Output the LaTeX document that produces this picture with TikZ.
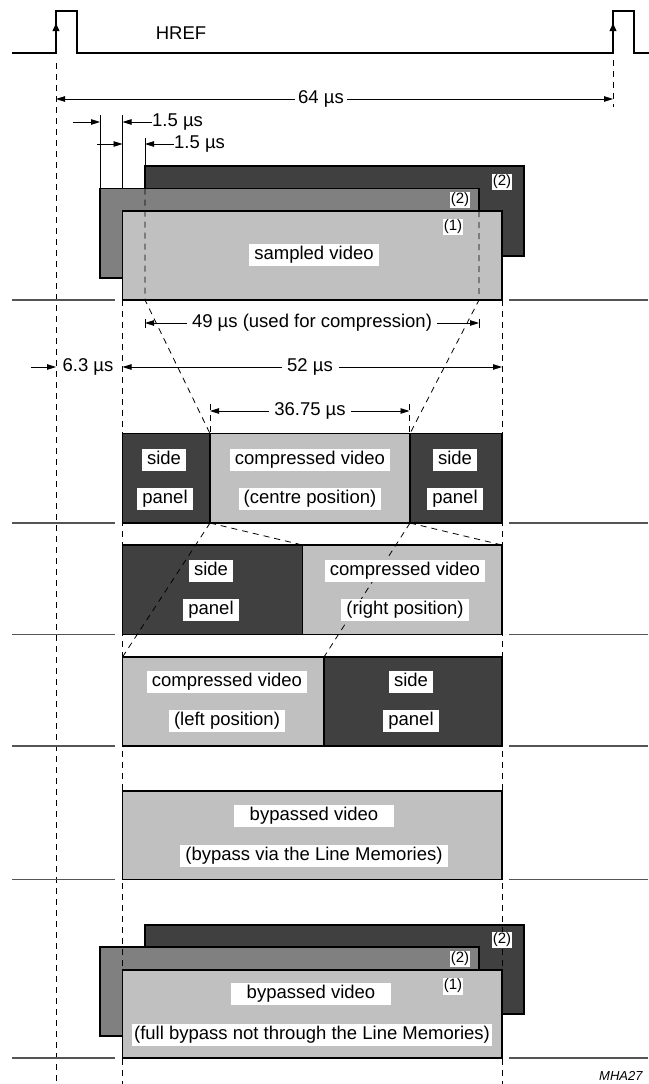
\documentclass[tikz,border=0pt]{standalone}
\usepackage{fontspec}
\setmainfont{Liberation Sans}
\usetikzlibrary{arrows.meta}
\definecolor{dk}{HTML}{404040}
\definecolor{md}{HTML}{808080}
\definecolor{lt}{HTML}{C0C0C0}
\definecolor{sepc}{HTML}{555555}
\tikzset{
 lbl/.style={fill=white, inner xsep=5pt, inner ysep=2.5pt, text height=13pt, text depth=4pt, font=\fontsize{18.5}{20}\selectfont},
 wlbl/.style={lbl, inner xsep=16pt},
 num/.style={fill=white, inner xsep=1pt, inner ysep=1.5pt, font=\fontsize{15}{17}\selectfont},
 dim/.style={font=\fontsize{18.5}{20}\selectfont, inner sep=0pt},
 box/.style={draw=black, line width=1.3pt},
 dsh/.style={dash pattern=on 6pt off 5pt, line width=0.8pt},
 arr/.style={-{Triangle[length=9pt,width=5.5pt]}, line width=0.8pt},
 sepl/.style={draw=sepc, line width=1.3pt},
 ext/.style={line width=0.8pt},
}
\begin{document}
\begin{tikzpicture}[x=1pt,y=-1pt]
\useasboundingbox (0,0) rectangle (648,1084);
% HREF signal
\draw[line width=2.2pt] (12,53) -- (56,53) -- (56,11) -- (77,11) -- (77,53) -- (613,53) -- (613,11) -- (634,11) -- (634,53) -- (650,53);
\draw[line width=2pt,-{Triangle[length=8pt,width=6.5pt]}] (56,42) -- (56,23);
\draw[line width=2pt,-{Triangle[length=8pt,width=6.5pt]}] (613,42) -- (613,23);
\node[dim] (href) at (181,33) {HREF};
% long dashed verticals
\draw[dsh] (56,63) -- (56,1084);
\draw[dsh] (613,60) -- (613,107);
% 64 us
\coordinate (h1) at (56,99);
\coordinate (h2) at (613,99);
\node[dim] (l64) at (321,99) {64 µs};
\draw[arr] ([xshift=-3pt]l64.west) -- (h1);
\draw[arr] ([xshift=3pt]l64.east) -- (h2);
% 1.5 us extension lines
\draw[ext] (100,115) -- (100,188);
\draw[ext] (122.5,115) -- (122.5,188);
\draw[ext] (145,138) -- (145,166);
\coordinate (a1) at (73,122);
\coordinate (a2) at (100,122);
\coordinate (a3) at (122.5,122);
\node[dim,anchor=west] (l15a) at (152,122) {1.5 µs};
\draw[arr] (a1) -- (a2);
\draw[arr] (l15a.west) -- (a3);
\coordinate (b1) at (97,144);
\coordinate (b2) at (122.5,144);
\coordinate (b3) at (145,144);
\node[dim,anchor=west] (l15b) at (174,144) {1.5 µs};
\draw[arr] (b1) -- (b2);
\draw[arr] (l15b.west) -- (b3);
% separators
\foreach \yy in {300,523,634.5,746,879.5,1058}{
  \draw[sepl] (12,\yy) -- (115,\yy);
  \draw[sepl] (509,\yy) -- (648,\yy);
}
% row 1 boxes
\draw[box, fill=dk] (145,166) rectangle (524,256);
\draw[box, fill=md] (100,188.5) rectangle (479,278);
\draw[box, fill=lt] (122.5,211) rectangle (502,300);
% row 6 back boxes
\draw[box, fill=dk] (145,925) rectangle (524,1014);
\draw[box, fill=md] (100,947) rectangle (479,1036);
% dashed verticals 52 us
\draw[dsh] (122.5,300) -- (122.5,1084);
\draw[dsh] (502,300) -- (502,1084);
% row 2
\draw[box, fill=dk] (122.5,433.5) rectangle (502,523);
\draw[box, fill=lt] (210,433.5) rectangle (410,523);
% row 3
\draw[box, fill=dk] (122.5,545) rectangle (502,634.5);
\draw[box, fill=lt] (302.5,545) rectangle (502,634.5);
% row 4
\draw[box, fill=lt] (122.5,657) rectangle (324,746);
\draw[box, fill=dk] (324,657) rectangle (502,746);
% row 5
\draw[box, fill=lt] (122.5,791) rectangle (502,879.5);
% row 6 front
\draw[box, fill=lt] (122.5,970) rectangle (502,1058);
% dashed mapping lines
\draw[dsh] (145,188.5) -- (145,300) -- (210,433.5);
\draw[dsh] (479,211) -- (479,300) -- (410,433.5);
\draw[dsh] (210,523) -- (302.5,545);
\draw[dsh] (410,523) -- (502,545);
\draw[dsh] (210,523) -- (122.5,657);
\draw[dsh] (410,523) -- (324,657);
\draw[dsh] (210,404) -- (210,433.5);
\draw[dsh] (409.5,404) -- (409.5,433.5);
% 49 us
\draw[ext] (145,319) -- (145,328);
\draw[ext] (479,319) -- (479,328);
\coordinate (c1) at (145,323);
\coordinate (c2) at (479,323);
\node[dim] (l49) at (312,323) {49 µs (used for compression)};
\draw[arr] ([xshift=-5pt]l49.west) -- (c1);
\draw[arr] ([xshift=5pt]l49.east) -- (c2);
% 6.3 us and 52 us
\coordinate (d0) at (31,367);
\coordinate (d1) at (56,367);
\coordinate (d2) at (122.5,367);
\coordinate (d3) at (502,367);
\node[dim] (l63) at (88,367) {6.3 µs};
\draw[arr] (d0) -- (d1);
\node[dim] (l52) at (310,367) {52 µs};
\draw[arr] ([xshift=-5pt]l52.west) -- (d2);
\draw[arr] ([xshift=6pt]l52.east) -- (d3);
% 36.75 us
\coordinate (e1) at (210,411);
\coordinate (e2) at (409.5,411);
\node[dim] (l36) at (310,411) {36.75 µs};
\draw[arr] ([xshift=-5pt]l36.west) -- (e1);
\draw[arr] ([xshift=5pt]l36.east) -- (e2);
% row 1 labels
\node[num] (n1a) at (502,182) {(2)};
\node[num] (n1b) at (460,200) {(2)};
\node[num] (n1c) at (453,227) {(1)};
\node[lbl] (sv) at (314,255) {sampled video};
% row 2 labels
\node[lbl] (r2a) at (164,459.5) {side};
\node[lbl] (r2b) at (165,499) {panel};
\node[lbl] (r2c) at (310,459.5) {compressed video};
\node[lbl] (r2d) at (310,499) {(centre position)};
\node[lbl] (r2e) at (455,459.5) {side};
\node[lbl] (r2f) at (455,499) {panel};
% row 3 labels
\node[lbl] (r3a) at (211,571) {side};
\node[lbl] (r3b) at (211,610) {panel};
\node[lbl] (r3c) at (405,571) {compressed video};
\node[lbl] (r3d) at (405,610) {(right position)};
% row 4 labels
\node[lbl] (r4a) at (227,682) {compressed video};
\node[lbl] (r4b) at (227,721) {(left position)};
\node[lbl] (r4c) at (411,682) {side};
\node[lbl] (r4d) at (411,721) {panel};
% row 5 labels
\node[wlbl] (r5a) at (314,815.5) {bypassed video};
\node[lbl] (r5b) at (314,856) {(bypass via the Line Memories)};
% row 6 labels
\node[num] (n6a) at (502,940) {(2)};
\node[num] (n6b) at (460,959) {(2)};
\node[num] (n6c) at (453,986) {(1)};
\node[wlbl] (r6a) at (311,994) {bypassed video};
\node[lbl, inner xsep=2pt] (r6b) at (312,1035) {(full bypass not through the Line Memories)};
% figure code
\node[anchor=base west, inner sep=0pt, font=\itshape\fontsize{13}{15}\selectfont] (mha) at (599,1080) {MHA27};
\end{tikzpicture}
\end{document}
